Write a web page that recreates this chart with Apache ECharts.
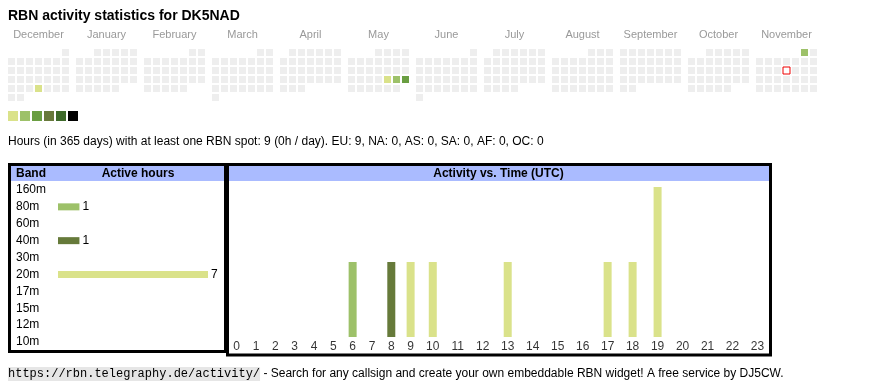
<!DOCTYPE html>
<html><head><meta charset="utf-8">
<script src="https://cdn.jsdelivr.net/npm/echarts@6/dist/echarts.min.js"></script>
<style>html,body{margin:0;padding:0;background:#fff;}#c{width:870px;height:390px;}</style>
</head><body><div id="c"></div>
<script>
// ---------- data ----------
const monthNames = ['December','January','February','March','April','May','June','July','August','September','October','November'];
const monthRanges = ['2024-12','2025-01','2025-02','2025-03','2025-04','2025-05','2025-06','2025-07','2025-08','2025-09','2025-10','2025-11'];
const activityDates = ['2024-12-26','2025-05-23','2025-05-24','2025-05-25','2025-11-01'];
const activityHours = [1,1,2,3,2];
const todayDate = '2025-11-13';
const levelValues = [1,2,3,4,5,6];
const bands = ['160m','80m','60m','40m','30m','20m','17m','15m','12m','10m'];
const bandHours = [0,1,0,1,0,7,0,0,0,0];
const hourLabels = ['0','1','2','3','4','5','6','7','8','9','10','11','12','13','14','15','16','17','18','19','20','21','22','23'];
const hours80m = [0,0,0,0,0,0,1,0,0,0,0,0,0,0,0,0,0,0,0,0,0,0,0,0];
const hours40m = [0,0,0,0,0,0,0,0,1,0,0,0,0,0,0,0,0,0,0,0,0,0,0,0];
const hours20m = [0,0,0,0,0,0,0,0,0,1,1,0,0,1,0,0,0,1,1,2,0,0,0,0];
const titleText = 'RBN activity statistics for DK5NAD';
const summaryText = 'Hours (in 365 days) with at least one RBN spot: 9 (0h / day). EU: 9, NA: 0, AS: 0, SA: 0, AF: 0, OC: 0';
const footerUrl = 'https://rbn.telegraphy.de/activity/';
const footerText = ' - Search for any callsign and create your own embeddable RBN widget! A free service by DJ5CW.';

// ---------- styles ----------
const FONT = '"Liberation Sans", Arial, sans-serif';
const MONO = '"Liberation Mono", "Courier New", monospace';
const levelColors = ['#dae28a','#9dc169','#6a9e42','#68793b','#3e6a2a','#000000'];
const bandColors = {'80m':'#9dc169','40m':'#667a3a','20m':'#dae28a'};
const headerBlue = '#aabbff';

const chart = echarts.init(document.getElementById('c'), null, {renderer:'canvas'});

// calendars (one block per month)
const calendars = monthRanges.map((r, i) => ({
  orient: 'vertical',
  range: r,
  left: 7 + i * 68,
  top: 48,
  cellSize: [9, 9],
  dayLabel: {show: false, firstDay: 1},
  monthLabel: {show: false},
  yearLabel: {show: false},
  splitLine: {show: false},
  itemStyle: {color: '#eeeeee', borderColor: '#ffffff', borderWidth: 2},
  silent: true
}));

const series = [];
monthRanges.forEach((r, i) => {
  const d = [];
  activityDates.forEach((dt, k) => { if (dt.slice(0, 7) === r) d.push([dt, activityHours[k]]); });
  series.push({
    type: 'heatmap', coordinateSystem: 'calendar', calendarIndex: i,
    data: d, silent: true
  });
});
const todayMonth = monthRanges.indexOf(todayDate.slice(0, 7));
series.push({
  type: 'scatter', coordinateSystem: 'calendar', calendarIndex: todayMonth,
  data: [[todayDate, 0]], symbol: 'rect', symbolSize: 7, silent: true,
  itemStyle: {color: '#ffffff', borderColor: '#ee0000', borderWidth: 1, opacity: 1}
});

// band chart
series.push({
  type: 'bar', xAxisIndex: 0, yAxisIndex: 0, barWidth: 7, silent: true,
  data: bandHours.map((v, i) => ({value: v, itemStyle: {color: bandColors[bands[i]] || '#cccccc'}})),
  label: {show: true, position: 'right', distance: 3, color: '#000', fontSize: 12, fontFamily: FONT,
          formatter: p => (p.value > 0 ? String(p.value) : '')}
});

// hour chart: columns sized like table cells from label width
const colW = hourLabels.map(l => l.length + 2.42);
const totalW = colW.reduce((a, b) => a + b, 0);
const centers = [];
let acc = 0;
colW.forEach(w => { centers.push(acc + w / 2); acc += w; });

[['80m', hours80m], ['40m', hours40m], ['20m', hours20m]].forEach(([b, arr]) => {
  series.push({
    type: 'bar', xAxisIndex: 1, yAxisIndex: 1, stack: 'hours', barWidth: 8, silent: true,
    itemStyle: {color: bandColors[b]},
    data: arr.map((v, i) => [centers[i], v])
  });
});
series.push({
  type: 'scatter', xAxisIndex: 1, yAxisIndex: 1, symbolSize: 0, silent: true,
  data: hourLabels.map((l, i) => [centers[i], 0]),
  label: {show: true, position: 'bottom', distance: 4, color: '#000', fontSize: 12, fontFamily: FONT,
          formatter: p => hourLabels[p.dataIndex]}
});

const graphic = [];
monthNames.forEach((m, i) => {
  graphic.push({type: 'text', silent: true, x: 7 + i * 68 + 31.5, y: 35,
    style: {text: m, fill: '#999999', font: '11px ' + FONT, textAlign: 'center', textVerticalAlign: 'middle'}});
});
graphic.push({type: 'text', silent: true, x: 8, y: 142,
  style: {text: summaryText, fill: '#000', font: '12px ' + FONT, textAlign: 'left', textVerticalAlign: 'middle'}});
graphic.push({type: 'rect', silent: true, z: 1, shape: {x: 11, y: 166, width: 213, height: 15}, style: {fill: headerBlue}});
graphic.push({type: 'rect', silent: true, z: 1, shape: {x: 229, y: 166, width: 540, height: 15}, style: {fill: headerBlue}});
graphic.push({type: 'text', silent: true, z: 2, x: 16, y: 173.5,
  style: {text: 'Band', fill: '#000', font: 'bold 12px ' + FONT, textAlign: 'left', textVerticalAlign: 'middle'}});
graphic.push({type: 'text', silent: true, z: 2, x: 138, y: 173.5,
  style: {text: 'Active hours', fill: '#000', font: 'bold 12px ' + FONT, textAlign: 'center', textVerticalAlign: 'middle'}});
graphic.push({type: 'text', silent: true, z: 2, x: 498.5, y: 173.5,
  style: {text: 'Activity vs. Time (UTC)', fill: '#000', font: 'bold 12px ' + FONT, textAlign: 'center', textVerticalAlign: 'middle'}});
graphic.push({type: 'rect', silent: true, z: 3, shape: {x: 9.5, y: 164.5, width: 216, height: 187}, style: {fill: 'none', stroke: '#000', lineWidth: 3}});
graphic.push({type: 'rect', silent: true, z: 3, shape: {x: 227.5, y: 164.5, width: 543, height: 190.5}, style: {fill: 'none', stroke: '#000', lineWidth: 3}});
graphic.push({type: 'text', silent: true, x: 8, y: 374,
  style: {
    text: '{m|' + footerUrl + '}{n|' + footerText + '}',
    textVerticalAlign: 'middle',
    rich: {
      m: {fontFamily: MONO, fontSize: 12, color: '#333333', backgroundColor: '#e6e6e6', lineHeight: 14, height: 14},
      n: {fontFamily: FONT, fontSize: 12, color: '#000000', lineHeight: 14}
    }
  }});

const option = {
  animation: false,
  backgroundColor: '#ffffff',
  title: {text: titleText, left: 8, top: 9, padding: 0,
    textStyle: {fontSize: 14, fontWeight: 'bold', color: '#000', fontFamily: FONT}},
  calendar: calendars,
  visualMap: {
    type: 'piecewise', seriesIndex: monthRanges.map((r, i) => i),
    pieces: levelValues.map((v, i) => (i === levelValues.length - 1 ? {gte: v, color: levelColors[i]} : {value: v, color: levelColors[i]})),
    orient: 'horizontal', left: 8, top: 111, padding: 0,
    itemWidth: 10, itemHeight: 10, itemGap: 2, itemSymbol: 'rect',
    showLabel: false, selectedMode: false, hoverLink: false, textGap: 0
  },
  grid: [
    {left: 58, width: 150, top: 181.5, height: 169, containLabel: false},
    {left: 227, width: 543, top: 187, height: 150, containLabel: false}
  ],
  xAxis: [
    {gridIndex: 0, type: 'value', min: 0, max: v => v.max, show: false},
    {gridIndex: 1, type: 'value', min: 0, max: totalW, show: false}
  ],
  yAxis: [
    {gridIndex: 0, type: 'category', data: bands, inverse: true,
      axisLine: {show: false}, axisTick: {show: false}, splitLine: {show: false},
      axisLabel: {align: 'left', margin: 42, color: '#000', fontSize: 12, fontFamily: FONT}},
    {gridIndex: 1, type: 'value', min: 0, max: v => v.max, show: false}
  ],
  series: series,
  graphic: graphic
};
chart.setOption(option);
</script>
</body></html>
